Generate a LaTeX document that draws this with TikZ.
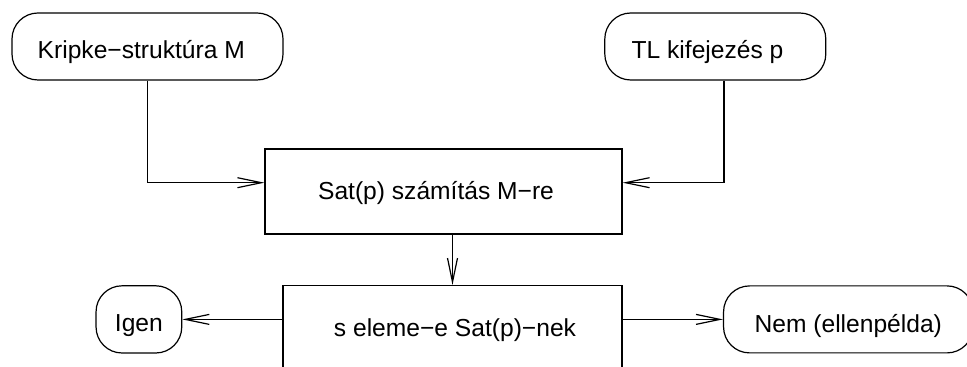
\documentclass[tikz,border=0pt]{standalone}
\usepackage{fontspec}
\setmainfont{Liberation Sans}
\usetikzlibrary{arrows.meta}

% text placed with its baseline shifted from the node centre
\newcommand\placetext[3]{\raisebox{#2}[0pt][0pt]{\makebox[0pt]{\hspace*{#1}#3\hspace*{-#1}}}}

\tikzset{
  base/.style={draw, line width=0.6pt, inner sep=0pt, font=\fontsize{12.3pt}{14pt}\selectfont},
  terminal/.style={base, rounded corners=13pt},
  process/.style={base},
  arr/.style={line width=0.6pt, -{Straight Barb[length=12pt,width=5pt,line width=0.6pt]}}
}

\begin{document}
\begin{tikzpicture}[x=0.5pt, y=-0.5pt]
  \useasboundingbox (0,0) rectangle (967,367);
  \clip (0,0) rectangle (967,367);

  \node[terminal, minimum width=135.5pt, minimum height=33.5pt] (kripke) at (147.5,46.5)
    {\placetext{-3.1pt}{-5.9pt}{Kripke−struktúra M}};
  \node[terminal, minimum width=110.5pt, minimum height=33.5pt] (tl) at (715.3,46.5)
    {\placetext{-3.9pt}{-5.9pt}{TL kifejezés p}};
  \node[process, minimum width=178.5pt, minimum height=42.5pt] (sat) at (443.5,191.5)
    {\placetext{-3.75pt}{-4.25pt}{Sat(p) számítás M−re}};
  \node[process, minimum width=169.5pt, minimum height=57.5pt, anchor=north] (check) at (452.5,285)
    {\placetext{1.25pt}{3.25pt}{s eleme−e Sat(p)−nek}};
  \node[terminal, minimum width=42.85pt, minimum height=33.6pt] (igen) at (138.9,319.4)
    {\placetext{0pt}{-6.3pt}{Igen}};
  \node[terminal, minimum width=124.75pt, minimum height=33.5pt] (nem) at (848.3,319.4)
    {\placetext{0pt}{-6.75pt}{Nem (ellenpélda)}};

  % inputs into the computation
  \draw[arr] (kripke.south) |- ([yshift=4.4pt]sat.west);
  \draw[arr] ([xshift=4.35pt]tl.south) |- ([yshift=4.4pt]sat.east);
  % computation to membership test
  \draw[arr] (sat.south -| check.north) -- (check.north);
  % outcomes
  \draw[arr] (check.west |- igen.east) -- (igen.east);
  \draw[arr] (check.east |- nem.west) -- (nem.west);
\end{tikzpicture}
\end{document}
